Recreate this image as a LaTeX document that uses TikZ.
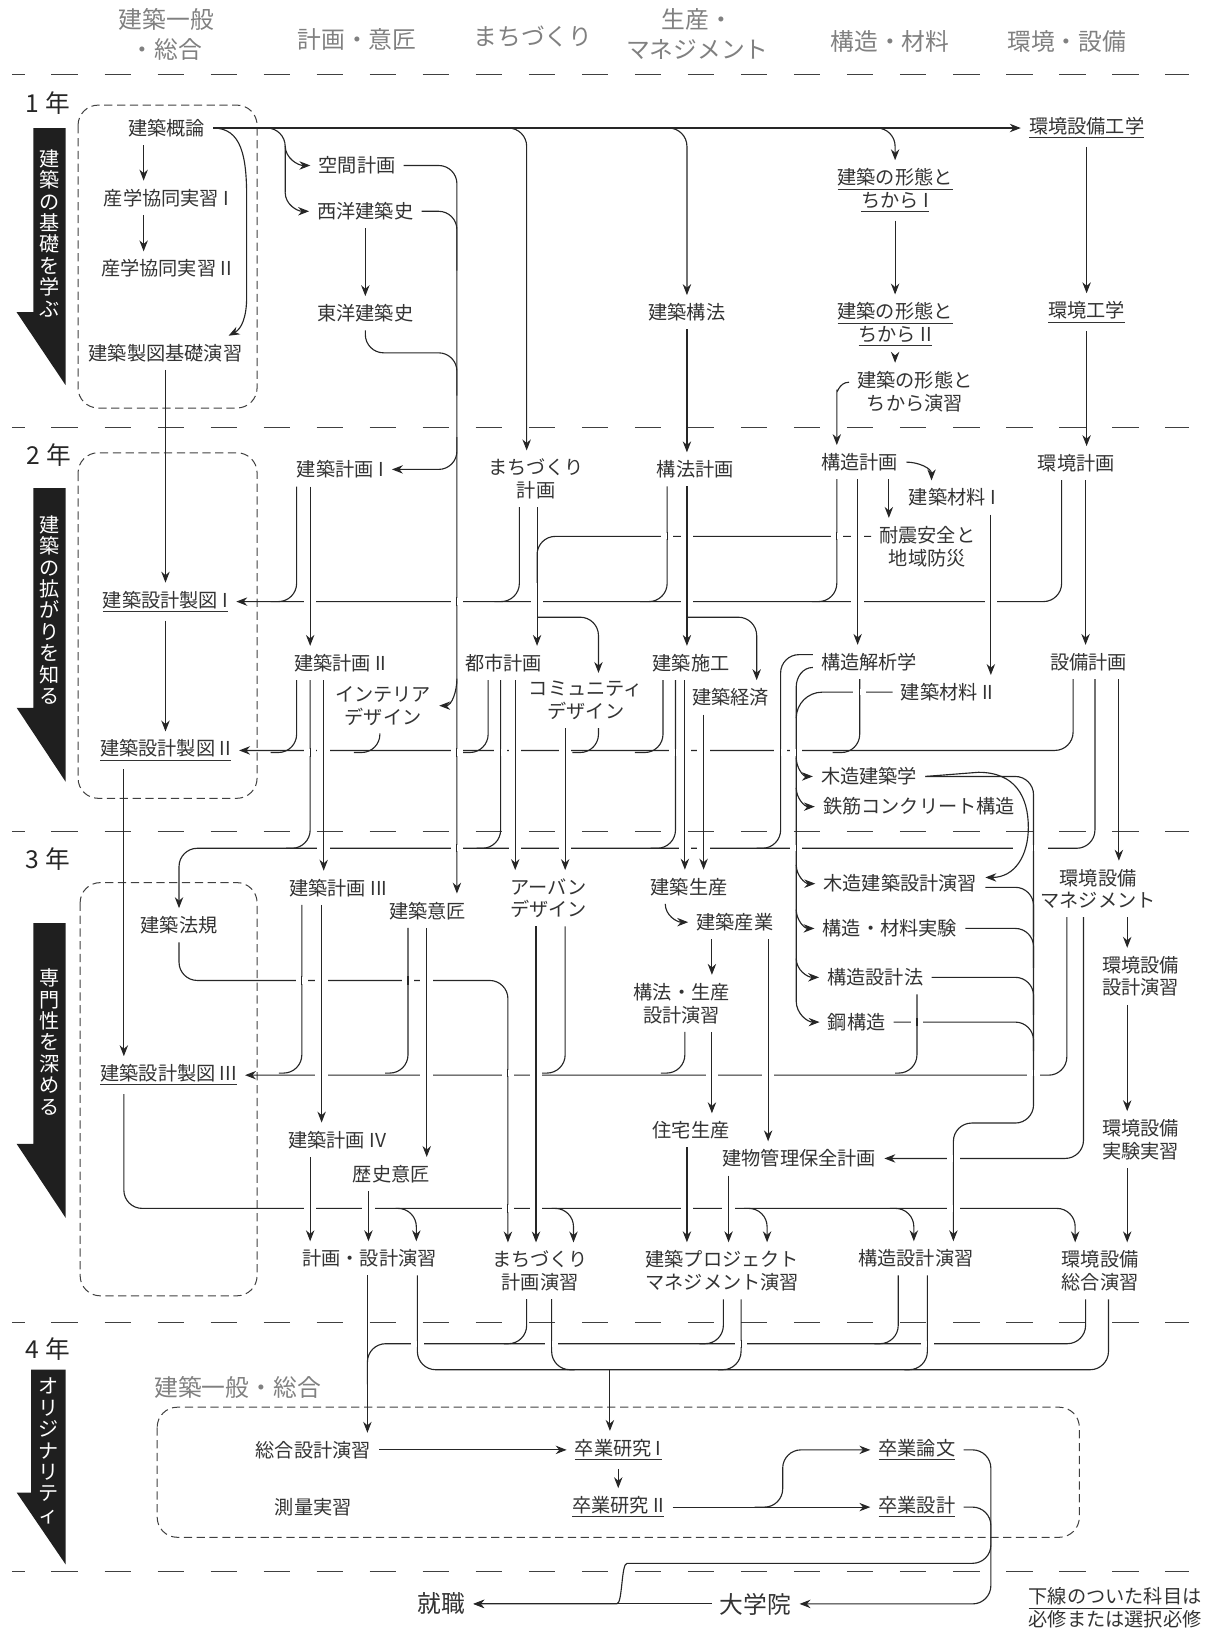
\documentclass[tikz,border=0pt]{standalone}
\usepackage{fontspec}
\setmainfont{Noto Sans CJK JP}
\usetikzlibrary{arrows.meta}

\tikzset{
  ln/.style={line width=0.62pt, draw=black!85, rounded corners=10pt},
  arr/.style={ln, -{Stealth[length=6pt,width=4.6pt]}},
  crs/.style={ln, sharp corners},
  nd/.style={font=\fontsize{10.5}{12.5}\selectfont, text=black!80, align=center, inner sep=3pt, outer sep=1.5pt},
  big/.style={nd, font=\fontsize{13}{15}\selectfont},
  hd/.style={font=\fontsize{13}{16.5}\selectfont, text=black!50, align=center},
  yr/.style={font=\fontsize{13.5}{16}\selectfont, text=black!85},
  vt/.style={font=\fontsize{11}{11.7}\selectfont, text=white, align=center, inner sep=0pt},
  sep/.style={line width=0.6pt, draw=black!75, dash pattern=on 14.5pt off 14.5pt, dash phase=7.4pt},
  dbox/.style={line width=0.55pt, draw=black!75, dash pattern=on 4.5pt off 2.5pt, rounded corners=11pt},
  band/.style={fill=black!88},
}
\newcommand{\uln}[1]{\underline{#1}}

\begin{document}
\begin{tikzpicture}[x=0.02cm, y=-0.02cm]
\useasboundingbox (0,0) rectangle (1159,1568);

% columns and years
\node[hd] (hgen) at (160,33) {建築一般\\・総合};
\node[hd] (hplan) at (343,38) {計画・意匠};
\node[hd] (htown) at (512,35) {まちづくり};
\node[hd] (hprod) at (670,33) {生産・\\マネジメント};
\node[hd] (hstr) at (855,40) {構造・材料};
\node[hd] (henv) at (1025,40) {環境・設備};

\foreach \yy in {72,411,799,1271,1510}
  \draw[sep] (11.5,\yy) -- (1142,\yy);

\node[yr] (yr1) at (46,99) {1 年};
\node[yr] (yr2) at (47,437) {2 年};
\node[yr] (yr3) at (46,825) {3 年};
\node[yr] (yr4) at (46,1296) {4 年};

\fill[band] (32,123) -- (63,123) -- (63,370) -- (16,300) -- (32,300) -- cycle;
\fill[band] (32,469) -- (63,469) -- (63,751) -- (16,680) -- (32,680) -- cycle;
\fill[band] (32,887) -- (63,887) -- (63,1170) -- (16,1099) -- (32,1099) -- cycle;
\fill[band] (30,1316) -- (63,1316) -- (63,1503) -- (16,1434) -- (30,1434) -- cycle;
\node[vt] (v1) at (48,224) {建\\築\\の\\基\\礎\\を\\学\\ぶ};
\node[vt] (v2) at (48,586) {建\\築\\の\\拡\\が\\り\\を\\知\\る};
\node[vt] (v3) at (48,1001) {専\\門\\性\\を\\深\\め\\る};
\node[vt] (v4) at (47,1394) {オ\\リ\\ジ\\ナ\\リ\\テ\\ィ};

\draw[dbox] (75,101) rectangle (247,392);
\draw[dbox] (75,435) rectangle (247,767);
\draw[dbox] (77,848) rectangle (247,1245);
\draw[dbox] (151,1352) rectangle (1037,1477);
\node[hd, anchor=west, inner sep=0pt] (hgen4) at (148,1333) {建築一般・総合};

% 1st year
\node[nd] (gairon) at (160,123) {建築概論};
\node[nd] (sangaku1) at (160,190) {産学協同実習 I};
\node[nd] (sangaku2) at (160,258) {産学協同実習 II};
\node[nd] (kisoseizu) at (159,339) {建築製図基礎演習};
\node[nd] (kukan) at (343,159) {空間計画};
\node[nd] (seiyo) at (351,203) {西洋建築史};
\node[nd] (toyo) at (351,301) {東洋建築史};
\node[nd] (kouhou) at (660,300) {建築構法};
\node[nd] (keitai1) at (860,183) {\uln{建築の形態と}\\\uln{ちから I}};
\node[nd] (keitai2) at (860,312) {\uln{建築の形態と}\\\uln{ちから II}};
\node[nd] (keitaien) at (879,376) {建築の形態と\\ちから演習};
\node[nd] (kankyo1) at (1044,123) {\uln{環境設備工学}};
\node[nd] (kankyo2) at (1044,300) {\uln{環境工学}};

% 2nd year
\node[nd] (keikaku1) at (327,451) {建築計画 I};
\node[nd] (machi) at (515,460) {まちづくり\\計画};
\node[nd] (kouhoukei) at (668,451) {構法計画};
\node[nd] (kozokei) at (826,444) {構造計画};
\node[nd] (zairyo1) at (915,478) {建築材料 I};
\node[nd] (taishin) at (891,525) {耐震安全と\\地域防災};
\node[nd] (kankyokei) at (1034,445) {環境計画};
\node[nd] (seizu1) at (159,578) {\uln{建築設計製図 I}};
\node[nd] (seizu2) at (159,721) {\uln{建築設計製図 II}};
\node[nd] (keikaku2) at (327,637) {建築計画 II};
\node[nd] (interior) at (368,678) {インテリア\\デザイン};
\node[nd] (toshi) at (484,637) {都市計画};
\node[nd] (community) at (563,673) {コミュニティ\\デザイン};
\node[nd] (sekou) at (664,637) {建築施工};
\node[nd] (keizai) at (702,670) {建築経済};
\node[nd] (kaiseki) at (835,636) {構造解析学};
\node[nd] (zairyo2) at (910,665) {建築材料 II};
\node[nd] (setsubi) at (1046,636) {設備計画};
\node[nd] (mokuzo) at (835,746) {木造建築学};
\node[nd] (rc) at (883,775) {鉄筋コンクリート構造};

% 3rd year
\node[nd] (keikaku3) at (325,853) {建築計画 III};
\node[nd] (isho) at (411,875) {建築意匠};
\node[nd] (hoki) at (172,889) {建築法規};
\node[nd] (seizu3) at (162,1033) {\uln{建築設計製図 III}};
\node[nd] (urban) at (527,863) {アーバン\\デザイン};
\node[nd] (seisan) at (662,852) {建築生産};
\node[nd] (sangyo) at (706,886) {建築産業};
\node[nd] (kouhouen) at (655,964) {構法・生産\\設計演習};
\node[nd] (jutaku) at (664,1086) {住宅生産};
\node[nd] (kanri) at (768,1113) {建物管理保全計画};
\node[nd] (mokuen) at (865,849) {木造建築設計演習};
\node[nd] (jikken) at (855,892) {構造・材料実験};
\node[nd] (sekkeiho) at (841,939) {構造設計法};
\node[nd] (kou) at (823,982) {鋼構造};
\node[nd] (kmanage) at (1055,854) {環境設備\\マネジメント};
\node[nd] (ksekkei) at (1096,938) {環境設備\\設計演習};
\node[nd] (kjikken) at (1096,1095) {環境設備\\実験実習};
\node[nd] (keikaku4) at (324,1095) {建築計画 IV};
\node[nd] (rekishi) at (376,1128) {歴史意匠};
\node[nd] (keikakuen) at (355,1209) {計画・設計演習};
\node[nd] (machien) at (519,1221) {まちづくり\\計画演習};
\node[nd] (projen) at (694,1221) {建築プロジェクト\\マネジメント演習};
\node[nd] (kozoen) at (880,1209) {構造設計演習};
\node[nd] (kankyoen) at (1057,1221) {環境設備\\総合演習};

% 4th year
\node[nd] (sogo) at (301,1393) {総合設計演習};
\node[nd] (sokuryo) at (301,1448) {測量実習};
\node[nd] (sotsu1) at (594,1393) {\uln{卒業研究 I}};
\node[nd] (sotsu2) at (594,1448) {\uln{卒業研究 II}};
\node[nd] (ronbun) at (881,1393) {\uln{卒業論文}};
\node[nd] (sekkei) at (881,1448) {\uln{卒業設計}};
\node[big] (shushoku) at (424,1541) {就職};
\node[big] (daigakuin) at (726,1541) {大学院};
\node[nd, align=right, anchor=east, inner sep=0pt] (legend) at (1157,1545) {\uln{下線のついた科目}は\\必修または選択必修};

% 1st year connectors
\draw[arr] (gairon.east) -- (kankyo1.west);
\draw[arr] (138,0 |- gairon.south) -- (138,0 |- sangaku1.north);
\draw[arr] (138,0 |- sangaku1.south) -- (138,0 |- sangaku2.north);
\draw[arr, sharp corners] (gairon.east) .. controls (232,123) and (237,150) .. (237,190) -- (237,285) .. controls (237,305) and (232,316) .. ([xshift=-12pt]kisoseizu.north east);
\draw[ln] (253,123) -| (274,185);
\draw[arr] (274,185) to[out=-90,in=180] (seiyo.west);
\draw[arr] (274,140) to[out=-90,in=180] (kukan.west);
\draw[arr] (485,123) -| (506,0 |- machi.north);
\draw[arr] (641,123) -| (kouhou.north);
\draw[arr] (836,123) -| (keitai1.north);
\draw[arr] (seiyo.south) -- (toyo.north);
\draw[arr] (kouhou.south) -- (kouhou.south |- kouhoukei.north);
\draw[arr] (keitai1.south) -- (keitai2.north);
\draw[arr] (keitai2.south) -- (860,0 |- keitaien.north);
\draw[arr] ([yshift=5pt]keitaien.west) to[out=180,in=90] (804,392) -- (804,0 |- kozokei.north);
\draw[arr] (kankyo1.south) -- (kankyo2.north);
\draw[arr] (kankyo2.south) -- (kankyo2.south |- kankyokei.north);

% history / design trunk
\draw[arr] (kukan.east) -| (439,0 |- isho.north);
\draw[ln] (seiyo.east) -| (439,260);
\draw[ln] (toyo.south) |- (439,339) -- (439,380);
\draw[arr] (439,420) |- (keikaku1.east);
\draw[arr] (439,652) to[out=-90,in=0] (interior.east);

% 2nd year connectors
\draw[arr] (kisoseizu.south) -- (seizu1.north);
\draw[arr] (seizu1.south) -- (seizu2.north);
\draw[arr] (1020,0 |- kankyokei.south) |- (seizu1.east);
\draw[ln] (804,0 |- kozokei.south) |- (780,578);
\draw[ln] (641,0 |- kouhoukei.south) |- (615,578);
\draw[ln] (499,0 |- machi.south) |- (475,578);
\draw[ln] (285,0 |- keikaku1.south) |- (260,578);
\draw[ln] ([yshift=5.5pt]taishin.west) -| (516,560);
\draw[arr] (298,0 |- keikaku1.south) -- (298,0 |- keikaku2.north);
\draw[arr] (516,0 |- machi.south) -- (516,0 |- toshi.north);
\draw[arr] (516,593) -| (575,0 |- community.north);
\draw[arr] (660,0 |- kouhoukei.south) -- (660,0 |- sekou.north);
\draw[arr] (660,593) -| (727,0 |- keizai.north);
\draw[arr] (824,0 |- kozokei.south) -- (824,0 |- kaiseki.north);
\draw[arr] (kozokei.east) to[out=0,in=90] (895,0 |- zairyo1.north);
\draw[arr] (854,0 |- kozokei.south) -- (854,0 |- taishin.north);
\draw[arr] (952,0 |- zairyo1.south) -- (952,0 |- zairyo2.north);
\draw[arr] (1043,0 |- kankyokei.south) -- (1043,0 |- setsubi.north);

\draw[arr] (1031,0 |- setsubi.south) |- (seizu2.east);
\draw[ln] (826,0 |- kaiseki.south) |- (800,723);
\draw[ln] (637,0 |- sekou.south) |- (610,723);
\draw[ln] (575,0 |- community.south) |- (550,723);
\draw[ln] (469,0 |- toshi.south) |- (445,723);
\draw[ln] (365,0 |- interior.south) |- (340,723);
\draw[ln] (285,0 |- keikaku2.south) |- (260,723);

\draw[arr] (1052,0 |- setsubi.south) |- (hoki.north |- 0,815) -- (hoki.north);
\draw[ln] (298,0 |- keikaku2.south) |- (275,815);
\draw[ln] (481,0 |- toshi.south) |- (458,815);
\draw[ln] (649,0 |- sekou.south) |- (625,815);
\draw[ln] ([yshift=4pt]kaiseki.west) -| (750,815) -- (727,815);
\draw[arr] (311,0 |- keikaku2.south) -- (311,0 |- keikaku3.north);
\draw[arr] (495,0 |- toshi.south) -- (495,0 |- urban.north);
\draw[arr] (543,0 |- community.south) -- (543,0 |- urban.north);
\draw[arr] (658,0 |- sekou.south) -- (658,0 |- seisan.north);
\draw[arr] (676,0 |- keizai.south) -- (676,0 |- seisan.north);
\draw[arr] (1075,0 |- setsubi.south) -- (1075,0 |- kmanage.north);

% structure branch
\draw[arr, sharp corners] ([yshift=-3pt]kaiseki.west) to[out=180,in=90] (765,660) -- (765,962) to[out=-90,in=180] (kou.west);
\draw[crs] (zairyo2.west) -- (790,665) to[out=180,in=90] (765,690);
\draw[arr] (765,728) to[out=-90,in=180] (mokuzo.west);
\draw[arr] (765,757) to[out=-90,in=180] (rc.west);
\draw[arr] (765,831) to[out=-90,in=180] (mokuen.west);
\draw[arr] (765,874) to[out=-90,in=180] (jikken.west);
\draw[arr] (765,921) to[out=-90,in=180] (sekkeiho.west);
\draw[arr] (mokuzo.east) -| (993,1079) -| (916,0 |- kozoen.north);
\draw[ln] ([yshift=-2pt]mokuen.east) -| (993,900);
\draw[ln] (jikken.east) -| (993,930);
\draw[ln] (sekkeiho.east) -| (993,975);
\draw[ln] (kou.east) -| (993,1010);
\draw[ln] (881,0 |- sekkeiho.south) |- (860,1031);

% 3rd year connectors
\draw[arr] (119,0 |- seizu2.south) -- (119,0 |- seizu3.north);
\draw[arr] (1025,0 |- kmanage.south) |- (seizu3.east);
\draw[ln] (658,0 |- kouhouen.south) |- (635,1031);
\draw[ln] (543,0 |- urban.south) |- (520,1031);
\draw[ln] (392,0 |- isho.south) |- (370,1031);
\draw[ln] (290,0 |- keikaku3.south) |- (268,1031);
\draw[arr] (hoki.south) |- (488,942) -- (488,0 |- machien.north);
\draw[arr] (309,0 |- keikaku3.south) -- (309,0 |- keikaku4.north);
\draw[arr] (410,0 |- isho.south) -- (410,0 |- rekishi.north);
\draw[arr] (515,0 |- urban.south) -- (515,0 |- machien.north);
\draw[arr] ([xshift=-13pt]seisan.south) to[out=-90,in=180] (sangyo.west);
\draw[arr] (684,0 |- sangyo.south) -- (684,0 |- kouhouen.north);
\draw[arr] (684,0 |- kouhouen.south) -- (684,0 |- jutaku.north);
\draw[arr] (738,0 |- sangyo.south) -- (738,0 |- kanri.north);
\draw[arr] (660,0 |- jutaku.south) -- (660,0 |- projen.north);
\draw[arr] (700,0 |- kanri.south) -- (700,0 |- projen.north);
\draw[arr] (298,0 |- keikaku4.south) -- (298,0 |- keikakuen.north);
\draw[arr] (354,0 |- rekishi.south) -- (354,0 |- keikakuen.north);
\draw[arr] (1083,0 |- kmanage.south) -- (1083,0 |- ksekkei.north);
\draw[arr] (1083,0 |- ksekkei.south) -- (1083,0 |- kjikken.north);
\draw[arr] (1083,0 |- kjikken.south) -- (1083,0 |- kankyoen.north);
\draw[arr] (1041,0 |- kmanage.south) |- (kanri.east);
\draw[arr] (119,0 |- seizu3.south) |- (1033,1161) -- (1033,0 |- kankyoen.north);
\draw[arr] (380,1161) -| (400,0 |- keikakuen.north);
\draw[arr] (530,1161) -| (551,0 |- machien.north);
\draw[arr] (715,1161) -| (737,0 |- projen.north);
\draw[arr] (855,1161) -| (878,0 |- kozoen.north);

% 4th year connectors
\draw[ln] (1043,0 |- kankyoen.south) |- (353,1291) -- (353,1330);
\draw[ln] (863,0 |- kozoen.south) |- (840,1291);
\draw[ln] (695,0 |- projen.south) |- (672,1291);
\draw[ln] (506,0 |- machien.south) |- (484,1291);
\draw[arr] (353,0 |- keikakuen.south) -- (353,0 |- sogo.north);
\draw[ln] (401,0 |- keikakuen.south) |- (1065,1316) -- (1065,0 |- kankyoen.south);
\draw[ln] (530,0 |- machien.south) |- (552,1316);
\draw[ln] (712,0 |- projen.south) |- (690,1316);
\draw[ln] (891,0 |- kozoen.south) |- (869,1316);
\draw[arr] (586,1316) -- (586,0 |- sotsu1.north);
\draw[arr] (sogo.east) -- (sotsu1.west);
\draw[arr] (sotsu1.south) -- (sotsu2.north);
\draw[arr] (sotsu2.east) -- (sekkei.west);
\draw[arr] (725,1448) -| (752,1393) -- (ronbun.west);
\draw[arr] (ronbun.east) -| (952,1502) -- (620,1502) to[out=180,in=0] (575,1541) -- (shushoku.east);
\draw[arr] (sekkei.east) -| (952,1541) -- (daigakuin.east);
\draw[arr] (daigakuin.west) -- (shushoku.east);

% line jumps
\foreach \x/\y in {298/578, 439/578, 516/578, 660/578, 824/578, 952/578,
  641/515, 660/515, 804/515, 824/515,
  298/723, 311/723, 439/723, 481/723, 495/723, 543/723, 649/723, 658/723, 676/723, 750/723, 765/723,
  311/815, 439/815, 495/815, 543/815, 658/815, 676/815, 765/815,
  826/665, 290/942, 309/942, 392/942, 410/942,
  309/1031, 410/1031, 488/1031, 515/1031, 684/1031, 738/1031, 993/1031,
  881/982, 916/1113,
  298/1161, 354/1161, 488/1161, 515/1161, 660/1161, 700/1161, 916/1161,
  401/1291, 530/1291, 712/1291, 891/1291}
{
  \fill[white] (\x-6,\y-3) rectangle (\x+6,\y+3);
  \draw[ln] (\x,\y-4) -- (\x,\y+4);
}
\fill[white] (973,812) rectangle (1007,818);
\draw[ln] (993,811) -- (993,819);
\draw[arr, sharp corners] (mokuzo.east) -- (940,742) .. controls (975,742) and (988,765) .. (988,795) .. controls (988,822) and (975,843) .. ([yshift=3.4pt]mokuen.east);
\end{tikzpicture}
\end{document}
